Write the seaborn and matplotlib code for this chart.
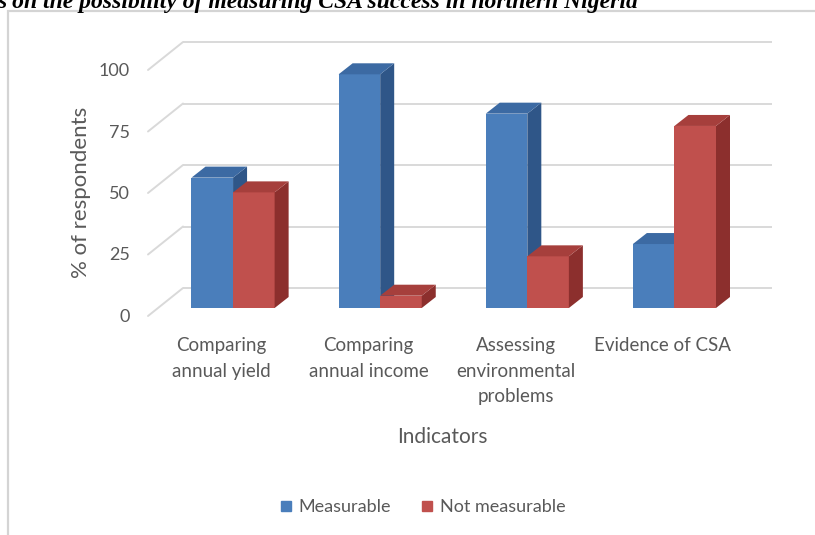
import matplotlib
matplotlib.use("Agg")
import matplotlib.pyplot as plt
import pandas as pd
import seaborn as sns
from matplotlib.transforms import ScaledTranslation
from matplotlib.patches import Polygon, Rectangle
from matplotlib.lines import Line2D

# ---- data -------------------------------------------------------------
indicators = [
    "Comparing\nannual yield",
    "Comparing\nannual income",
    "Assessing\nenvironmental\nproblems",
    "Evidence of CSA",
]
measurable = [53, 95, 79, 26]
not_measurable = [47, 5, 21, 74]
series = ["Measurable", "Not measurable"]
yticks = [0, 25, 50, 75, 100]

df = pd.DataFrame({
    "Indicator": indicators * 2,
    "Percent": measurable + not_measurable,
    "Response": [series[0]] * len(indicators) + [series[1]] * len(indicators),
})

# ---- style ------------------------------------------------------------
sns.set_theme(style="white")
plt.rcParams["font.family"] = ["Lato", "DejaVu Sans"]
TXT = "#595959"
GRID = "#D9D9D9"

front_cols = {"Measurable": "#4A7EBB", "Not measurable": "#C0504D"}
side_cols = {"Measurable": "#2F5688", "Not measurable": "#8C2F2D"}
top_cols = {"Measurable": "#3C6AA3", "Not measurable": "#A63F3C"}

DPI = 100
W, H = 815, 535
fig = plt.figure(figsize=(W / DPI, H / DPI), dpi=DPI)
ax = fig.add_axes([159.5 / W, 227 / H, 588.5 / W, 246 / H])
ax.patch.set_alpha(0)

sns.barplot(
    data=df, x="Indicator", y="Percent", hue="Response",
    order=indicators, hue_order=series, palette=front_cols,
    saturation=1, width=0.565, linewidth=0, legend=False, ax=ax,
)
ax.set_xlim(-0.5, len(indicators) - 0.5)
ax.set_ylim(0, 100)
ax.set_xticks([])
ax.set_yticks([])
ax.set_xlabel("")
ax.set_ylabel("")
for s in ax.spines.values():
    s.set_visible(False)

# pixel -> data unit conversion for the pseudo-3D depth
p0 = ax.transData.transform((0, 0))
p1 = ax.transData.transform((1, 1))
sx, sy = p1[0] - p0[0], p1[1] - p0[1]

def off(px, py):
    return px / sx, py / sy

# back wall and side wall gridlines
bx, by = off(23.5, 20)
fx, fy = off(-11.5, -8)
x_lo, x_hi = ax.get_xlim()
for t in yticks:
    ax.plot([x_lo + bx, x_hi + bx], [t + by, t + by], color=GRID, lw=1.4,
            zorder=0.5, clip_on=False, solid_capstyle="butt")
    ax.plot([x_lo + fx, x_lo + bx], [t + fy, t + by], color=GRID, lw=1.4,
            zorder=0.5, clip_on=False)

# side and top faces of each column
dx, dy = off(14, 11)
for i, (level, cont) in enumerate(zip(series, ax.containers)):
    for bar in cont:
        x0, w, h = bar.get_x(), bar.get_width(), bar.get_height()
        bar.set_zorder(2 + i)
        side = [(x0 + w, 0), (x0 + w, h), (x0 + w + dx, h + dy), (x0 + w + dx, dy)]
        top = [(x0, h), (x0 + w, h), (x0 + w + dx, h + dy), (x0 + dx, h + dy)]
        ax.add_patch(Polygon(side, closed=True, facecolor=side_cols[level],
                             edgecolor="none", zorder=2 + i, clip_on=False))
        ax.add_patch(Polygon(top, closed=True, facecolor=top_cols[level],
                             edgecolor="none", zorder=2 + i, clip_on=False))

# value axis labels on the front edge
ytr = ax.get_yaxis_transform() + ScaledTranslation(-29.5 / DPI, -9 / DPI, fig.dpi_scale_trans)
for t in yticks:
    ax.text(0, t, str(t), transform=ytr, ha="right", va="center",
            fontsize=13, color=TXT, clip_on=False)

# category labels, set on the front edge of the floor
for i, lab in enumerate(indicators):
    tr = ax.get_xaxis_transform() + ScaledTranslation(-11.5 / DPI, -29 / DPI, fig.dpi_scale_trans)
    ax.text(i, 0, lab, transform=tr, ha="center", va="top", fontsize=13.5,
            color=TXT, linespacing=1.62, multialignment="center", clip_on=False)

# axis titles
fig.text(81 / W, 1 - 192 / H, "% of respondents", rotation=90, ha="center",
         va="center", fontsize=16, color=TXT)
fig.text(442 / W, 1 - 437 / H, "Indicators", ha="center", va="center",
         fontsize=15, color=TXT)

# legend
handles = [Line2D([], [], marker="s", linestyle="", markersize=7,
                  color=front_cols[s]) for s in series]
fig.legend(handles, series, loc="center", bbox_to_anchor=(422 / W, 1 - 507 / H),
           ncol=2, frameon=False, handletextpad=0.3, columnspacing=1.6,
           handlelength=0.8, fontsize=13, labelcolor=TXT)

# chart frame
fig.add_artist(Rectangle((8 / W, -0.05), 1.0, 1 - 11 / H + 0.05,
                         transform=fig.transFigure, fill=False,
                         edgecolor="#D4D4D4", lw=1.6))

# caption line above the frame
fig.text(-3 / W, 1 - 8 / H,
         "s on the possibility of measuring CSA success in northern Nigeria",
         family="Liberation Serif", weight="bold", style="italic",
         fontsize=17, ha="left", va="baseline", color="black")

fig.savefig("out.png", dpi=DPI)
